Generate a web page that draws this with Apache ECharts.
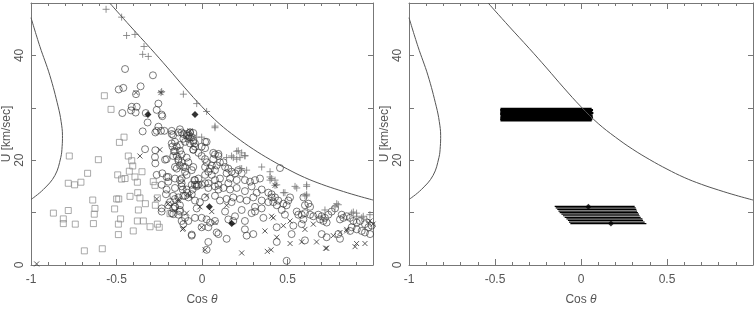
<!DOCTYPE html>
<html><head><meta charset="utf-8">
<script src="https://cdn.jsdelivr.net/npm/echarts@6/dist/echarts.min.js"></script>
<style>html,body{margin:0;padding:0;background:#fff}#c{width:755px;height:311px}</style>
</head><body><div id="c"></div>
<script>
// ---- data (x = cos theta, y = U km/sec) ----
const squares = [[-0.571,32.3],[-0.532,29.7],[-0.456,24.4],[-0.483,23.4],[-0.431,20.8],[-0.411,19.9],[-0.405,18.9],[-0.425,17.9],[-0.392,16.8],[-0.450,16.5],[-0.493,17.2],[-0.470,16.4],[-0.378,15.8],[-0.351,17.8],[-0.376,13.8],[-0.363,12.8],[-0.421,13.1],[-0.331,11.7],[-0.372,10.5],[-0.285,15.9],[-0.275,15.2],[-0.261,12.8],[-0.273,11.4],[-0.261,7.8],[-0.250,7.2],[-0.304,7.3],[-0.343,8.4],[-0.378,8.4],[-0.402,6.5],[-0.489,7.8],[-0.489,5.8],[-0.476,8.8],[-0.511,10.7],[-0.487,12.6],[-0.499,12.6],[-0.639,12.4],[-0.626,10.8],[-0.630,9.7],[-0.635,7.9],[-0.669,17.5],[-0.606,20.1],[-0.708,15.8],[-0.745,15.3],[-0.782,15.6],[-0.776,20.8],[-0.782,10.4],[-0.869,9.9],[-0.811,8.8],[-0.811,7.9],[-0.741,7.8],[-0.688,2.7],[-0.583,3.1],[-0.187,9.8]];

const circles = [[-0.450,37.4],[-0.287,36.2],[-0.460,33.8],[-0.487,33.5],[-0.359,34.1],[-0.386,32.6],[-0.466,29.0],[-0.411,30.2],[-0.415,29.5],[-0.382,30.2],[-0.388,29.1],[-0.329,29.0],[-0.318,27.2],[-0.347,25.5],[-0.255,30.8],[-0.265,29.6],[-0.236,28.7],[-0.232,28.4],[-0.273,25.3],[-0.265,25.6],[-0.255,26.4],[-0.240,25.6],[-0.220,25.6],[-0.333,22.1],[-0.273,21.9],[-0.275,20.6],[-0.273,19.4],[-0.265,17.2],[-0.232,17.5],[-0.216,20.1],[-0.236,15.3],[-0.207,16.8],[-0.197,15.9],[-0.207,14.4],[-0.211,13.5],[-0.197,11.4],[-0.236,10.8],[-0.236,10.2],[-0.187,12.0],[-0.168,10.8],[-0.158,12.6],[-0.177,25.6],[-0.168,24.8],[-0.158,23.5],[-0.173,22.6],[-0.164,21.7],[-0.148,20.8],[-0.138,19.9],[-0.129,21.8],[-0.119,21.1],[-0.129,25.9],[-0.119,25.3],[-0.109,24.1],[-0.099,23.5],[-0.090,24.7],[-0.080,24.1],[-0.070,25.3],[-0.051,25.2],[-0.051,23.5],[-0.041,22.6],[-0.090,20.5],[-0.080,19.6],[-0.099,18.7],[-0.090,17.2],[-0.119,16.5],[-0.119,15.6],[-0.113,14.4],[-0.099,13.2],[-0.086,13.8],[-0.055,14.4],[-0.051,18.7],[-0.045,16.2],[-0.041,15.3],[-0.129,11.4],[-0.129,10.2],[-0.119,8.4],[-0.109,7.8],[-0.168,9.7],[-0.060,5.8],[-0.041,9.0],[-0.031,10.8],[-0.158,11.1],
[-0.138,25.3],[-0.177,25.0],[-0.109,25.0],[-0.070,25.3],[-0.080,24.7],[-0.060,24.4],[-0.051,23.8],[-0.041,23.2],[-0.070,23.2],[-0.177,23.2],[-0.148,22.6],[-0.129,22.9],[-0.158,21.7],[-0.168,20.8],[-0.138,20.2],[-0.119,19.6],[-0.129,19.0],[-0.148,18.4],[-0.158,18.7],[-0.109,18.7],[-0.099,17.8],[-0.060,18.1],[-0.207,20.2],[-0.197,16.8],[-0.158,16.5],[-0.129,16.2],[-0.051,22.0],[-0.021,21.4],[-0.002,20.8],[0.018,20.2],[0.027,19.6],[0.018,18.7],[0.047,18.4],[0.057,19.0],[0.066,20.2],[0.076,21.1],[0.096,20.8],[0.105,19.6],[0.086,19.0],[0.076,18.1],[0.125,19.6],[0.135,18.7],[0.154,18.4],[0.144,17.5],[0.173,17.8],[0.193,17.5],[0.212,18.1],[0.232,17.5],[0.203,16.2],[0.164,16.5],[0.105,16.5],[0.076,16.2],[0.057,17.2],[0.037,17.8],[0.018,17.2],[-0.021,16.5],[-0.041,16.2],[-0.060,15.3],[-0.021,15.3],[0.018,15.6],[0.096,15.3],[0.154,15.6],[0.251,16.2],[0.281,15.9],[0.310,16.2],[0.339,16.5],[-0.002,22.6],[0.018,23.5],[-0.031,15.3],[0.037,15.6],
[-0.158,14.7],[-0.119,15.0],[-0.090,14.4],[-0.060,13.5],[-0.031,15.0],[-0.002,15.3],[0.037,14.7],[0.076,15.0],[0.096,14.4],[0.125,14.7],[0.164,14.4],[0.203,14.7],[0.251,14.1],[0.290,15.0],[0.320,13.8],[0.349,14.4],[0.388,13.8],[-0.168,13.2],[-0.138,12.9],[-0.109,13.2],[-0.080,12.9],[-0.041,12.3],[-0.012,12.0],[0.018,12.9],[0.076,13.2],[0.105,12.3],[0.144,12.6],[0.183,12.9],[0.222,12.6],[0.261,12.3],[0.300,12.9],[0.349,12.3],[0.388,12.0],[0.407,12.9],[-0.158,11.1],[-0.129,10.5],[-0.177,9.9],[-0.138,9.6],[-0.099,9.0],[-0.080,8.4],[-0.002,9.0],[0.027,8.7],[0.037,7.2],[-0.002,7.2],[0.047,8.1],[0.076,8.4],[0.154,8.7],[0.183,8.4],[0.193,9.3],[0.251,8.4],[0.290,9.9],[0.310,10.2],[0.359,9.0],[0.251,6.8],[0.261,5.6],[0.300,5.9],[0.086,6.2],[0.096,5.9],[0.144,5.0],[0.037,4.4],[-0.060,5.6],[0.027,2.9],[0.310,11.1],[0.349,10.8],[0.232,10.5],[0.135,10.2],[0.173,12.0],
[0.407,13.5],[0.427,12.9],[0.417,12.0],[0.437,11.4],[0.446,12.3],[0.476,11.7],[0.495,11.4],[0.466,10.5],[0.485,9.6],[0.515,12.9],[0.505,12.3],[0.593,12.9],[0.602,11.4],[0.622,11.7],[0.632,11.1],[0.554,10.2],[0.563,9.6],[0.583,9.6],[0.602,9.9],[0.632,9.6],[0.651,9.3],[0.680,9.6],[0.700,9.3],[0.690,8.7],[0.719,9.0],[0.739,9.6],[0.758,10.2],[0.778,10.8],[0.710,8.4],[0.729,8.1],[0.593,8.7],[0.583,7.8],[0.817,9.6],[0.807,8.7],[0.827,9.0],[0.846,9.3],[0.866,9.0],[0.885,8.4],[0.905,8.1],[0.924,8.4],[0.953,7.8],[0.973,7.2],[0.992,7.5],[0.875,7.2],[0.866,6.5],[0.905,6.8],[0.934,6.5],[0.953,6.2],[0.437,7.2],[0.534,7.5],[0.524,5.9],[0.437,4.4],[0.602,4.7],[0.700,5.9],[0.729,5.3],[0.797,5.9],[0.807,5.0],[0.495,0.8],[0.983,5.9],
[-0.090,25.0],[-0.070,24.4],[0.027,23.5],[0.018,22.3],[-0.051,22.0],[0.066,21.4],[0.096,21.2],[0.456,18.5]];

const crosses = [[-0.561,48.8],[-0.470,47.3],[-0.441,43.8],[-0.392,44.0],[-0.339,41.7],[-0.347,40.2],[-0.314,39.8],[-0.240,32.9],[-0.236,33.1],[-0.109,32.6],[-0.031,30.8],[0.027,29.3],[0.076,26.2],[-0.002,24.4],[0.212,21.8],[0.232,21.4],[0.076,26.5],[-0.031,24.4],[0.203,21.7],[0.251,20.9],[0.144,20.5],[0.183,20.5],[0.203,20.2],[0.232,18.4],[0.349,18.7],[0.398,16.8],[0.173,20.8],[0.222,20.5],[0.251,20.8],[0.398,17.8],[0.427,16.2],[0.407,16.5],[0.427,15.2],[0.544,15.0],[0.612,15.3],[0.476,13.8],[0.612,13.5],[0.602,13.2],[0.788,11.7],[0.778,11.1],[0.719,10.5],[0.885,10.1],[0.904,9.9],[0.934,9.0],[0.963,8.7],[0.982,8.1],[0.222,18.4],[0.261,18.1],[0.398,16.2],[0.437,15.3],[0.554,14.7],[0.612,15.0],[0.485,13.8],[0.612,13.2],[0.797,11.5],[0.875,9.9],[0.905,9.3],[0.943,9.3],[0.982,9.6]];

const xmarks = [[-0.386,32.9],[-0.246,22.0],[-0.363,20.8],[-0.265,12.6],[-0.197,11.7],[-0.138,12.3],[-0.113,6.8],[-0.070,25.6],[-0.967,0.2],[-0.138,12.6],[-0.090,9.9],[-0.012,11.1],[0.057,10.2],[0.076,8.1],[-0.002,7.2],[-0.109,7.0],[0.018,2.9],[0.232,2.3],[0.382,2.6],[0.404,2.9],[0.368,6.5],[0.417,9.0],[-0.070,13.2],[0.027,13.2],[0.144,11.4],[0.407,9.3],[0.437,5.3],[0.515,4.1],[0.602,6.8],[0.651,7.8],[0.670,4.4],[0.729,3.2],[0.768,5.6],[0.807,6.2],[0.846,6.8],[0.895,3.5],[0.953,4.1],[0.982,8.4],[1.0,7.8],[0.476,7.5],[0.515,8.4],[0.583,4.4],[0.723,3.2],[0.846,6.5],[0.904,4.1],[-0.240,32.9],[0.427,15.2]];

const diamonds = [[-0.316,28.7],[-0.041,28.7],[0.043,11.1],[0.174,7.9]];

const curveLeft = [[-1,47.2],[-0.948,41.7],[-0.890,36.2],[-0.841,30.2],[-0.824,27.4],[-0.816,24.7],[-0.818,22.6],[-0.826,20.5],[-0.860,17.1],[-0.928,14.4],[-1,12.5]];
const curveRight = [[-0.54,50],[-0.42,45.6],[-0.3,41.3],[-0.2,37.6],[-0.1,33.8],[0,30.2],[0.1,27.0],[0.2,24.4],[0.3,22.1],[0.4,20.1],[0.5,18.3],[0.6,16.7],[0.7,15.4],[0.8,14.3],[0.9,13.3],[1.0,12.4]];

// horizontal error bars (right panel)
const barHighU  = [29.8,29.6,29.4,29.2,29.0,28.8,28.6,28.4,28.2,28.0,27.8,27.6];
const barHighX0 = [-0.468,-0.470,-0.466,-0.469,-0.467,-0.470,-0.468,-0.466,-0.469,-0.467,-0.470,-0.468];
const barHighX1 = [0.062,0.070,0.058,0.066,0.072,0.060,0.068,0.064,0.070,0.058,0.066,0.062];
const barLowU  = [11.2,10.9,10.6,10.3,10.0,9.7,9.4,9.1,8.8,8.5,8.2,7.9];
const barLowX0 = [-0.153,-0.147,-0.138,-0.131,-0.124,-0.114,-0.105,-0.095,-0.085,-0.076,-0.070,-0.062];
const barLowX1 = [0.312,0.318,0.322,0.326,0.331,0.337,0.341,0.347,0.357,0.361,0.370,0.380];

const xTickLabels = ['-1','-0.5','0','0.5'];
const yTickLabels = ['0','20','40'];

// ---- chart ----
const axisColor = '#777';
const textColor = '#555';
const font = 'Liberation Sans';
const plusPath = 'path://M0,-10 L0,10 M-10,0 L10,0';
const xPath = 'path://M-10,-10 L10,10 M-10,10 L10,-10';

function fmtX(v) {
  const r = Math.round(v * 10) / 10;
  const s = r === 0 ? '0' : String(r);
  return xTickLabels.indexOf(s) >= 0 ? s : '';
}
function fmtY(v) {
  const s = String(Math.round(v));
  return yTickLabels.indexOf(s) >= 0 ? s : '';
}

function xAxisDef(grid, pos) {
  return {
    type: 'value', gridIndex: grid, position: pos, min: -1, max: 1, interval: 0.5,
    axisLine: {show: true, onZero: false, lineStyle: {color: axisColor, width: 1}},
    axisTick: {show: true, inside: true, length: 6, lineStyle: {color: axisColor}},
    minorTick: {show: true, splitNumber: 5, length: 3, lineStyle: {color: axisColor}},
    splitLine: {show: false}, minorSplitLine: {show: false},
    axisLabel: pos === 'bottom' ? {
      show: true, color: textColor, fontFamily: font, fontSize: 12, margin: 9,
      showMaxLabel: false, formatter: fmtX
    } : {show: false},
    name: pos === 'bottom' ? 'Cos {i|θ}' : '',
    nameLocation: 'middle', nameGap: 29,
    nameTextStyle: {color: textColor, fontFamily: font, fontSize: 12, rich: {i: {fontStyle: 'italic', color: textColor, fontFamily: font, fontSize: 12}}}
  };
}
function yAxisDef(grid, pos) {
  return {
    type: 'value', gridIndex: grid, position: pos, min: 0, max: 50, interval: 10,
    axisLine: {show: true, onZero: false, lineStyle: {color: axisColor, width: 1}},
    axisTick: {show: true, inside: true, length: 5, lineStyle: {color: axisColor}},
    splitLine: {show: false},
    axisLabel: pos === 'left' ? {
      show: true, color: textColor, fontFamily: font, fontSize: 12, rotate: 90, margin: 5,
      formatter: fmtY
    } : {show: false},
    name: pos === 'left' ? 'U [km/sec]' : '',
    nameLocation: 'middle', nameGap: 16,
    nameTextStyle: {color: textColor, fontFamily: font, fontSize: 12}
  };
}

function barSeries(us, x0, x1, w) {
  return {
    type: 'custom', xAxisIndex: 1, yAxisIndex: 1, clip: true,
    data: us.map((u, i) => [x0[i], x1[i], u]),
    encode: {x: [0, 1], y: 2},
    renderItem: (params, api) => {
      const a = api.coord([api.value(0), api.value(2)]);
      const b = api.coord([api.value(1), api.value(2)]);
      return {type: 'line', shape: {x1: a[0], y1: a[1], x2: b[0], y2: b[1]}, style: {stroke: '#000', lineWidth: w}};
    },
    z: 3
  };
}

const chart = echarts.init(document.getElementById('c'), null, {renderer: 'canvas'});
chart.setOption({
  animation: false,
  backgroundColor: '#fff',
  grid: [
    {left: 31, top: 1, width: 342, height: 275},
    {left: 409, top: 1, width: 344, height: 275}
  ],
  xAxis: [xAxisDef(0, 'bottom'), xAxisDef(1, 'bottom'), xAxisDef(0, 'top'), xAxisDef(1, 'top')],
  yAxis: [yAxisDef(0, 'left'), yAxisDef(1, 'left'), yAxisDef(0, 'right'), yAxisDef(1, 'right')],
  series: [
    {type: 'line', xAxisIndex: 0, yAxisIndex: 0, data: curveLeft, smooth: 0.4, showSymbol: false, lineStyle: {color: '#555', width: 1}},
    {type: 'line', xAxisIndex: 0, yAxisIndex: 0, data: curveRight, smooth: 0.4, showSymbol: false, lineStyle: {color: '#555', width: 1}},
    {type: 'line', xAxisIndex: 1, yAxisIndex: 1, data: curveLeft, smooth: 0.4, showSymbol: false, lineStyle: {color: '#555', width: 1}},
    {type: 'line', xAxisIndex: 1, yAxisIndex: 1, data: curveRight, smooth: 0.4, showSymbol: false, lineStyle: {color: '#555', width: 1}},
    {type: 'scatter', xAxisIndex: 0, yAxisIndex: 0, data: squares, symbol: 'rect', symbolSize: 6,
      itemStyle: {color: 'rgba(0,0,0,0)', borderColor: '#888', borderWidth: 0.9}},
    {type: 'scatter', xAxisIndex: 0, yAxisIndex: 0, data: circles, symbol: 'circle', symbolSize: 7,
      itemStyle: {color: 'rgba(0,0,0,0)', borderColor: '#333', borderWidth: 0.8}},
    {type: 'scatter', xAxisIndex: 0, yAxisIndex: 0, data: crosses, symbol: plusPath, symbolSize: 7,
      itemStyle: {color: 'rgba(0,0,0,0)', borderColor: '#777', borderWidth: 1}},
    {type: 'scatter', xAxisIndex: 0, yAxisIndex: 0, data: xmarks, symbol: xPath, symbolSize: 5,
      itemStyle: {color: 'rgba(0,0,0,0)', borderColor: '#333', borderWidth: 1}},
    {type: 'scatter', xAxisIndex: 0, yAxisIndex: 0, data: diamonds, symbol: 'diamond', symbolSize: 7,
      itemStyle: {color: '#000'}},
    barSeries(barHighU, barHighX0, barHighX1, 2),
    barSeries(barLowU, barLowX0, barLowX1, 1.2),
    {type: 'scatter', xAxisIndex: 1, yAxisIndex: 1, data: diamonds, symbol: 'diamond', symbolSize: 6,
      itemStyle: {color: '#000'}, z: 4}
  ]
});
</script></body></html>
